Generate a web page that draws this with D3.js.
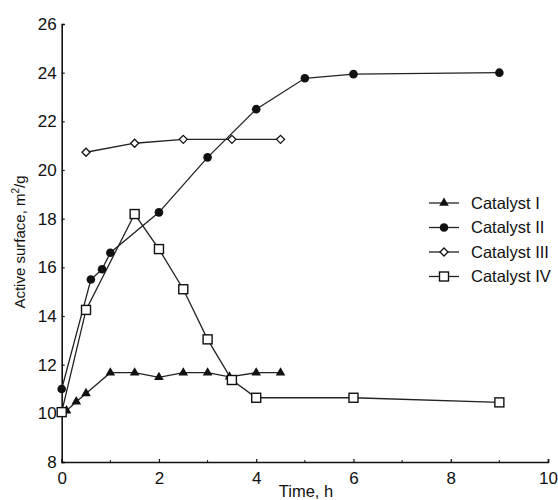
<!DOCTYPE html>
<html><head><meta charset="utf-8">
<script src="https://cdn.jsdelivr.net/npm/d3@7"></script>
<style>body{margin:0;background:#fff}svg{display:block}text{font-family:"Liberation Sans",Arial,sans-serif;fill:#111}</style>
</head><body>
<svg id="c" width="558" height="500"></svg>
<script>
const seriesNames = ["Catalyst I","Catalyst II","Catalyst III","Catalyst IV"];
const cat1T = [0,0.1,0.3,0.5,1,1.5,2,2.5,3,3.45,4,4.5];
const cat1V = [10.05,10.11,10.48,10.82,11.67,11.67,11.48,11.67,11.67,11.5,11.67,11.67];
const cat2T = [0,0.6,0.83,1,2,3,4,5,6,9];
const cat2V = [11.0,15.5,15.92,16.6,18.26,20.52,22.5,23.77,23.94,24.0];
const cat3T = [0.5,1.5,2.5,3.5,4.5];
const cat3V = [20.73,21.1,21.26,21.26,21.26];
const cat4T = [0,0.5,1.5,2,2.5,3,3.5,4,6,9];
const cat4V = [10.05,14.25,18.19,16.75,15.1,13.04,11.37,10.64,10.64,10.45];
const xTicks = [0,2,4,6,8,10];
const yTicks = [8,10,12,14,16,18,20,22,24,26];
const xLabel = "Time, h";
const yLabelParts = ["Active surface, m","2","/g"];

const svg = d3.select("#c");
const x = d3.scaleLinear().domain([0,10]).range([61.7,548]);
const y = d3.scaleLinear().domain([8,26]).range([462,24]);

const xa = svg.append("g").attr("transform",`translate(0,${y(8)})`)
  .call(d3.axisBottom(x).tickValues(xTicks).tickSize(-3).tickPadding(8).tickFormat(d3.format("d")));
const ya = svg.append("g").attr("transform",`translate(${x(0)},0)`)
  .call(d3.axisLeft(y).tickValues(yTicks).tickSize(-3).tickPadding(5).tickFormat(d3.format("d")));
[xa,ya].forEach(a=>{
  a.select(".domain").attr("stroke","#111").attr("stroke-width",1.6);
  a.selectAll(".tick line").attr("stroke","#111").attr("stroke-width",1.2);
  a.selectAll(".tick text").style("font-size","17px").attr("fill","#111");
});
xa.selectAll(".tick text").attr("dy","0.85em");
svg.append("g").selectAll("line").data([1,3,5,7,9]).join("line")
  .attr("x1",d=>x(d)).attr("x2",d=>x(d)).attr("y1",y(8)).attr("y2",y(8)-2)
  .attr("stroke","#111").attr("stroke-width",1);

svg.append("text").attr("x",306).attr("y",497).attr("text-anchor","middle")
  .style("font-size","16.5px").text(xLabel);
const yl = svg.append("text").attr("transform","translate(25,242) rotate(-90)").attr("text-anchor","middle")
  .style("font-size","15px");
yl.append("tspan").text(yLabelParts[0]);
yl.append("tspan").attr("dy","-6").style("font-size","10px").text(yLabelParts[1]);
yl.append("tspan").attr("dy","6").text(yLabelParts[2]);

const series = [
  {t:cat1T,v:cat1V,sym:"tri"},
  {t:cat2T,v:cat2V,sym:"circ"},
  {t:cat3T,v:cat3V,sym:"dia"},
  {t:cat4T,v:cat4V,sym:"sq"}
];
const line = d3.line().x(d=>x(d[0])).y(d=>y(d[1]));

function drawSym(g, sym, cx, cy){
  if(sym==="tri"){
    g.append("path").attr("d",d3.symbol(d3.symbolTriangle,40)()).attr("transform",`translate(${cx},${cy})`)
      .attr("fill","#111");
  } else if(sym==="circ"){
    g.append("circle").attr("cx",cx).attr("cy",cy).attr("r",4.3).attr("fill","#111");
  } else if(sym==="dia"){
    g.append("path").attr("d","M0,-4L4,0L0,4L-4,0Z").attr("transform",`translate(${cx},${cy})`)
      .attr("fill","#fff").attr("stroke","#111").attr("stroke-width",1.3);
  } else {
    g.append("rect").attr("x",cx-4.5).attr("y",cy-4.5).attr("width",9).attr("height",9)
      .attr("fill","#fff").attr("stroke","#111").attr("stroke-width",1.4);
  }
}

series.forEach(s=>{
  const pts = s.t.map((t,i)=>[t,s.v[i]]);
  svg.append("path").datum(pts).attr("d",line).attr("fill","none").attr("stroke","#222").attr("stroke-width",1.3);
});
series.forEach(s=>{
  const g = svg.append("g");
  s.t.forEach((t,i)=>drawSym(g,s.sym,x(t),y(s.v[i])));
});

const ly = [203,227.5,252,276.5];
seriesNames.forEach((n,i)=>{
  const g = svg.append("g");
  g.append("line").attr("x1",429).attr("x2",459).attr("y1",ly[i]).attr("y2",ly[i]).attr("stroke","#222").attr("stroke-width",1.3);
  drawSym(g,series[i].sym,444,ly[i]);
  g.append("text").attr("x",471).attr("y",ly[i]).attr("dy","0.35em").style("font-size","16.5px").text(n);
});
</script>
</body></html>
